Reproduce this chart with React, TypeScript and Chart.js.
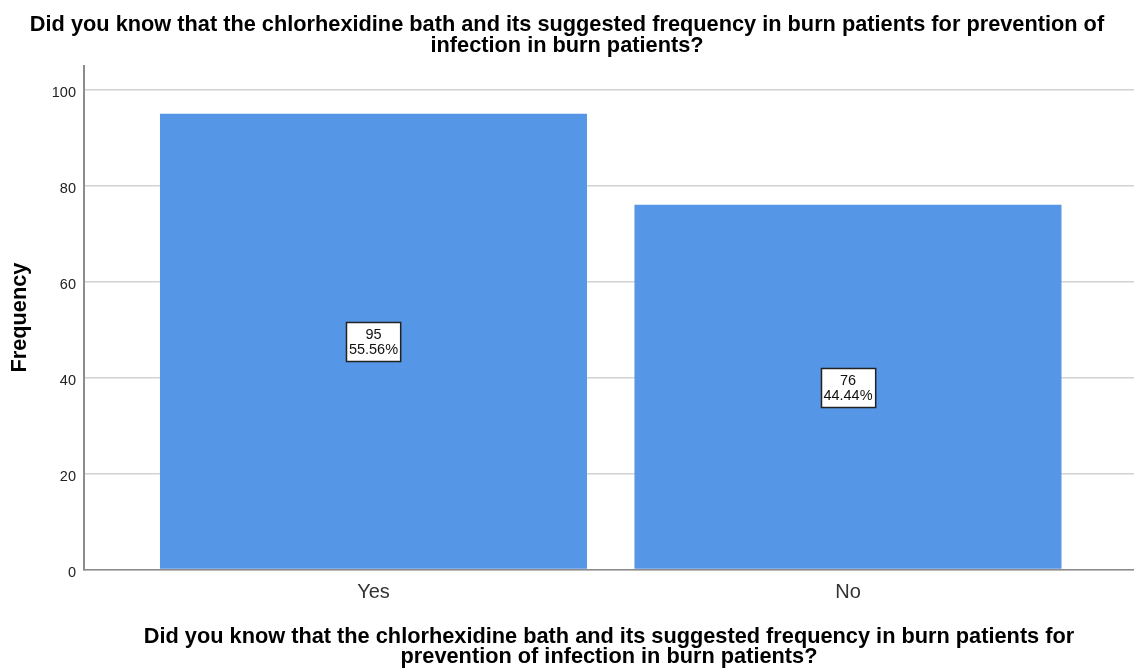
import React, { useEffect, useRef } from "react";
import { Chart, registerables } from "chart.js";

Chart.register(...registerables);

const categories = ["Yes", "No"];
const frequencies = [95, 76];
const yTickValues = [0, 20, 40, 60, 80, 100];
const titleLines = [
  "Did you know that the chlorhexidine bath and its suggested frequency in burn patients for prevention of",
  "infection in burn patients?",
];
const xTitleLines = [
  "Did you know that the chlorhexidine bath and its suggested frequency in burn patients for",
  "prevention of infection in burn patients?",
];
const yTitle = "Frequency";

const FONT = "'Liberation Sans', Arial, sans-serif";

const boxLabelPlugin = {
  id: "boxLabels",
  afterDatasetsDraw(chart: any) {
    const ctx = chart.ctx;
    const meta = chart.getDatasetMeta(0);
    const yScale = chart.scales.y;
    const total = frequencies.reduce((a, b) => a + b, 0);
    ctx.save();
    ctx.font = `14.5px ${FONT}`;
    meta.data.forEach((bar: any, i: number) => {
      const v = frequencies[i];
      const lines = [String(v), ((v / total) * 100).toFixed(2) + "%"];
      const cx = bar.x;
      const cy = yScale.getPixelForValue(v / 2);
      const w = Math.max(...lines.map((l) => ctx.measureText(l).width)) + 5;
      const h = 39;
      const x0 = Math.round(cx - w / 2);
      const y0 = Math.round(cy - h / 2);
      ctx.fillStyle = "#ffffff";
      ctx.fillRect(x0, y0, w, h);
      ctx.strokeStyle = "#222222";
      ctx.lineWidth = 1.5;
      ctx.strokeRect(x0 + 0.5, y0 + 0.5, w, h);
      ctx.fillStyle = "#111111";
      ctx.textAlign = "center";
      ctx.textBaseline = "middle";
      ctx.fillText(lines[0], cx, cy - 6.5);
      ctx.fillText(lines[1], cx, cy + 8.5);
    });
    ctx.restore();
  },
};

export default function App() {
  const ref = useRef<HTMLCanvasElement | null>(null);
  useEffect(() => {
    if (!ref.current) return;
    const chart = new Chart(ref.current, {
      type: "bar",
      data: {
        datasets: [
          {
            data: frequencies.map((y, i) => ({ x: i, y })),
            backgroundColor: "#5596e6",
            borderWidth: 0,
            barPercentage: 0.9,
            categoryPercentage: 1.0,
          },
        ],
      },
      plugins: [boxLabelPlugin],
      options: {
        animation: false,
        responsive: false,
        devicePixelRatio: 1,
        layout: { padding: 0 },
        plugins: {
          legend: { display: false },
          tooltip: { enabled: false },
          title: {
            display: true,
            text: titleLines,
            color: "#000",
            font: { family: FONT, size: 21.75, weight: "bold", lineHeight: 0.97 },
            padding: { top: 14.5, bottom: 9 },
          },
        },
        scales: {
          x: {
            type: "linear",
            offset: false,
            min: -0.6101,
            max: 1.6028,
            afterFit(scale: any) {
              scale.height = 99.5;
            },
            afterBuildTicks(scale: any) {
              scale.ticks = categories.map((_, i) => ({ value: i }));
            },
            ticks: {
              callback: (v: any) => categories[Math.round(Number(v))] ?? "",
              color: "#333",
              font: { family: FONT, size: 20 },
              padding: 11,
              maxRotation: 0,
              autoSkip: false,
            },
            grid: { display: false, drawTicks: false },
            border: { display: true, color: "#8c8c8c", width: 1.5 },
            title: {
              display: true,
              text: xTitleLines,
              color: "#000",
              font: { family: FONT, size: 21.75, weight: "bold", lineHeight: 0.95 },
              padding: { top: 0, bottom: 1.5 },
            },
          },
          y: {
            min: 0,
            max: 105,
            afterFit(scale: any) {
              scale.width = 84;
            },
            afterBuildTicks(scale: any) {
              scale.ticks = yTickValues.map((value) => ({ value }));
            },
            ticks: {
              color: "#222",
              font: { family: FONT, size: 14.5 },
              padding: 8,
              labelOffset: 3,
            },
            grid: { color: "#d2d2d2", lineWidth: 1.5, drawTicks: false },
            border: { display: true, color: "#8c8c8c", width: 2 },
            title: {
              display: true,
              text: yTitle,
              color: "#000",
              font: { family: FONT, size: 21.75, weight: "bold", lineHeight: 1.0 },
              padding: { top: 9, bottom: 0 },
            },
          },
        },
      } as any,
    });
    return () => chart.destroy();
  }, []);
  return (
    <div style={{ position: "absolute", left: 0, top: 0, width: 1134, height: 669, background: "#fff" }}>
      <canvas ref={ref} width={1134} height={669} style={{ display: "block" }} />
    </div>
  );
}
